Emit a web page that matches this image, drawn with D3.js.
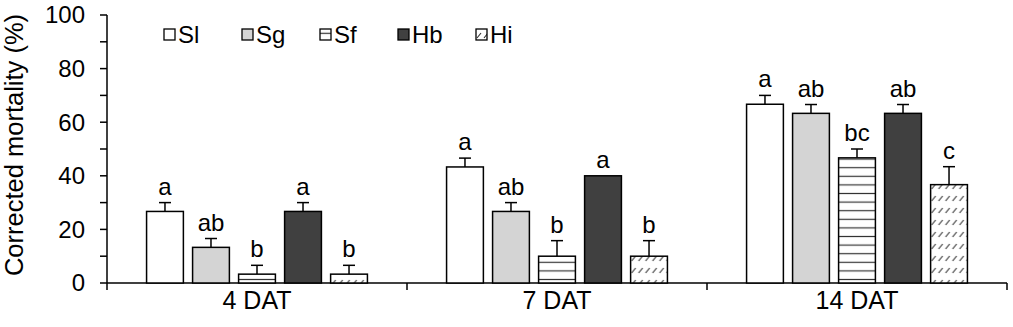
<!DOCTYPE html>
<html>
<head>
<meta charset="utf-8">
<script src="https://cdn.jsdelivr.net/npm/d3@7"></script>
<style>
body { margin: 0; background: #fff; }
text { font-family: "Liberation Sans", Arial, sans-serif; fill: #000; }
</style>
</head>
<body>
<div id="chart"></div>
<script>
// data
var days = ["4 DAT", "7 DAT", "14 DAT"];
var treatments = ["Sl", "Sg", "Sf", "Hb", "Hi"];
var means = [
  [26.7, 13.3, 3.3, 26.7, 3.3],
  [43.3, 26.7, 10, 40, 10],
  [66.7, 63.3, 46.7, 63.3, 36.7]
];
var errs = [
  [3.3, 3.3, 3.3, 3.3, 3.3],
  [3.3, 3.3, 5.8, 0, 5.8],
  [3.3, 3.3, 3.3, 3.3, 6.7]
];
var letters = [
  ["a", "ab", "b", "a", "b"],
  ["a", "ab", "b", "a", "b"],
  ["a", "ab", "bc", "ab", "c"]
];
var yTicks = [0, 20, 40, 60, 80, 100];

var width = 1013, height = 327;
var margin = {top: 15, right: 6, bottom: 44, left: 107};

var svg = d3.select("#chart").append("svg")
    .attr("width", width)
    .attr("height", height);

var defs = svg.append("defs");

// horizontal stripes for Sf
var pf = defs.append("pattern")
    .attr("id", "stripes")
    .attr("patternUnits", "userSpaceOnUse")
    .attr("width", 10).attr("height", 8.6);
pf.append("rect").attr("width", 10).attr("height", 8.6).attr("fill", "#fff");
pf.append("line").attr("x1", 0).attr("x2", 10).attr("y1", 4.3).attr("y2", 4.3)
    .attr("stroke", "#333").attr("stroke-width", 1.2);

// dashed diagonal hatch for Hi
var ph = defs.append("pattern")
    .attr("id", "hatch")
    .attr("patternUnits", "userSpaceOnUse")
    .attr("width", 7).attr("height", 12);
ph.append("rect").attr("width", 7).attr("height", 12).attr("fill", "#fff");
ph.append("line").attr("x1", 1).attr("y1", 9).attr("x2", 5).attr("y2", 4)
    .attr("stroke", "#333").attr("stroke-width", 1.2);

var fills = {Sl: "#ffffff", Sg: "#d4d4d4", Sf: "url(#stripes)", Hb: "#404040", Hi: "url(#hatch)"};

var x0 = d3.scaleBand()
    .domain(days)
    .range([margin.left, width - margin.right - 0]);

var x1 = d3.scaleBand()
    .domain(treatments)
    .range([0, x0.bandwidth()])
    .paddingInner(0.2)
    .paddingOuter(0.86);

var y = d3.scaleLinear()
    .domain([0, 100])
    .range([height - margin.bottom, margin.top]);

// y axis
var yAxis = svg.append("g")
    .attr("transform", "translate(" + margin.left + ",0)");
yAxis.append("line")
    .attr("x1", 0).attr("x2", 0)
    .attr("y1", y(100)).attr("y2", y(0))
    .attr("stroke", "#000").attr("stroke-width", 1.5);
yAxis.selectAll(".tick")
    .data(d3.range(0, 101, 10))
    .enter().append("line")
    .attr("x1", -7).attr("x2", 0)
    .attr("y1", function(d) { return y(d); })
    .attr("y2", function(d) { return y(d); })
    .attr("stroke", "#000").attr("stroke-width", 1.5);
yAxis.selectAll(".lab")
    .data(yTicks)
    .enter().append("text")
    .attr("x", -22)
    .attr("y", function(d) { return y(d); })
    .attr("dy", "0.35em")
    .attr("text-anchor", "end")
    .style("font-size", "24px")
    .text(function(d) { return d; });

svg.append("text")
    .attr("transform", "translate(23," + (y(50) - 4) + ")rotate(-90)")
    .attr("text-anchor", "middle")
    .style("font-size", "25.5px")
    .text("Corrected mortality (%)");

// x axis
var xAxis = svg.append("g")
    .attr("transform", "translate(0," + y(0) + ")");
xAxis.append("line")
    .attr("x1", margin.left).attr("x2", width - margin.right)
    .attr("stroke", "#000").attr("stroke-width", 1.5);
var bounds = days.map(function(d) { return x0(d); }).concat([x0(days[days.length - 1]) + x0.bandwidth()]);
xAxis.selectAll(".sep")
    .data(bounds)
    .enter().append("line")
    .attr("x1", function(d) { return d; })
    .attr("x2", function(d) { return d; })
    .attr("y1", 0).attr("y2", 7)
    .attr("stroke", "#000").attr("stroke-width", 1.5);
xAxis.selectAll(".lab")
    .data(days)
    .enter().append("text")
    .attr("x", function(d) { return x0(d) + x0.bandwidth() / 2; })
    .attr("y", 26)
    .attr("text-anchor", "middle")
    .style("font-size", "25px")
    .text(function(d) { return d; });

// bars
var rows = [];
days.forEach(function(d, i) {
  treatments.forEach(function(t, j) {
    rows.push({day: d, trt: t, v: means[i][j], e: errs[i][j], l: letters[i][j]});
  });
});

var g = svg.selectAll(".bar")
    .data(rows)
    .enter().append("g")
    .attr("class", "bar")
    .attr("transform", function(d) { return "translate(" + (x0(d.day) + x1(d.trt)) + ",0)"; });

var bw = x1.bandwidth();

// error bars (drawn first so the bar border sits on top)
g.filter(function(d) { return d.e > 0; }).append("line")
    .attr("x1", bw / 2).attr("x2", bw / 2)
    .attr("y1", function(d) { return y(d.v); })
    .attr("y2", function(d) { return y(d.v + d.e); })
    .attr("stroke", "#000").attr("stroke-width", 1.5);
g.filter(function(d) { return d.e > 0; }).append("line")
    .attr("x1", bw / 2 - 6).attr("x2", bw / 2 + 6)
    .attr("y1", function(d) { return y(d.v + d.e); })
    .attr("y2", function(d) { return y(d.v + d.e); })
    .attr("stroke", "#000").attr("stroke-width", 1.5);

g.append("rect")
    .attr("x", 0)
    .attr("width", bw)
    .attr("y", function(d) { return y(d.v); })
    .attr("height", function(d) { return y(0) - y(d.v); })
    .attr("fill", function(d) { return fills[d.trt]; })
    .attr("stroke", "#000")
    .attr("stroke-width", 1.5);

g.append("text")
    .attr("x", bw / 2)
    .attr("y", function(d) { return y(d.v + d.e) - 8; })
    .attr("text-anchor", "middle")
    .style("font-size", "24px")
    .text(function(d) { return d.l; });

// legend
var leg = svg.selectAll(".leg")
    .data(treatments)
    .enter().append("g")
    .attr("class", "leg")
    .attr("transform", function(d, i) { return "translate(" + (164 + i * 78) + ",29)"; });
leg.append("rect")
    .attr("width", 11).attr("height", 11)
    .attr("fill", function(d) { return fills[d]; })
    .attr("stroke", "#000").attr("stroke-width", 1.3);
leg.append("text")
    .attr("x", 14)
    .attr("y", 5.5)
    .attr("dy", "0.35em")
    .style("font-size", "24px")
    .text(function(d) { return d; });
</script>
</body>
</html>
